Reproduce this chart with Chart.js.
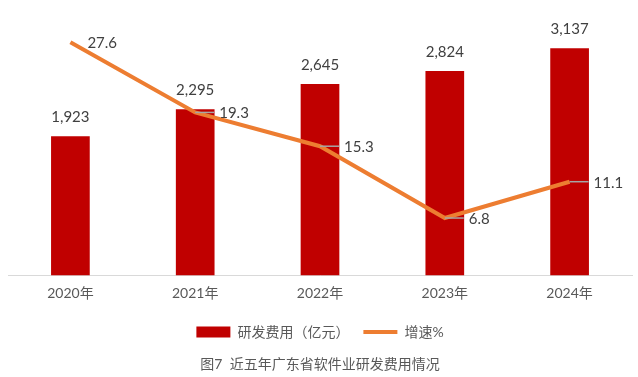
<!DOCTYPE html>
<html>
<head>
<meta charset="utf-8">
<script src="https://cdn.jsdelivr.net/npm/chart.js@4"></script>
<style>
    html, body { margin: 0; padding: 0; background: #ffffff; }
    #wrap { width: 638px; height: 377px; }
</style>
</head>
<body>
<div id="wrap"><canvas id="rdChart"></canvas></div>
<script>
// R&D spending of Guangdong software industry, 2020-2024

const years = ['2020年', '2021年', '2022年', '2023年', '2024年'];
const rdCost = [1923, 2295, 2645, 2824, 3137];   // 亿元
const growth = [27.6, 19.3, 15.3, 6.8, 11.1];     // %

const costLabel = '研发费用（亿元）';
const growthLabel = '增速%';
const caption = '图7  近五年广东省软件业研发费用情况';

const FONT = "Lato, 'Noto Sans CJK SC', sans-serif";
const RED = '#c00000';
const ORANGE = '#ed7d31';

// Draws the value labels (bars above, growth to the right with a small leader)
const valueLabels = {
    id: 'valueLabels',
    afterDatasetsDraw(chart) {
        const ctx = chart.ctx;
        ctx.save();
        ctx.font = '15px ' + FONT;
        ctx.fillStyle = '#404040';
        ctx.textBaseline = 'middle';

        ctx.textAlign = 'center';
        chart.getDatasetMeta(0).data.forEach((bar, i) => {
            ctx.fillText(rdCost[i].toLocaleString('en-US'), bar.x, bar.y - 19);
        });

        ctx.textAlign = 'left';
        chart.getDatasetMeta(1).data.forEach((pt, i) => {
            const gap = i === 0 ? 17 : 24;
            if (i > 0) {
                ctx.strokeStyle = '#a6a6a6';
                ctx.lineWidth = 1.5;
                ctx.beginPath();
                ctx.moveTo(pt.x, pt.y);
                ctx.lineTo(pt.x + gap - 5, pt.y);
                ctx.stroke();
            }
            ctx.fillText(growth[i].toFixed(1), pt.x + gap, pt.y + 1);
        });
        ctx.restore();
    }
};

const ctx = document.getElementById('rdChart').getContext('2d');

new Chart(ctx, {
    data: {
        labels: years,
        datasets: [{
            type: 'bar',
            label: costLabel,
            data: rdCost,
            backgroundColor: RED,
            yAxisID: 'y',
            categoryPercentage: 1,
            barPercentage: 0.31,
            order: 2
        }, {
            type: 'line',
            label: growthLabel,
            data: growth,
            borderColor: ORANGE,
            backgroundColor: ORANGE,
            borderWidth: 4,
            tension: 0,
            pointRadius: 0,
            yAxisID: 'y2',
            order: 1
        }]
    },
    options: {
        responsive: true,
        maintainAspectRatio: false,
        animation: false,
        layout: {
            padding: { top: 22, left: 8, right: 6, bottom: 0 }
        },
        plugins: {
            tooltip: { enabled: false },
            legend: {
                position: 'bottom',
                labels: {
                    usePointStyle: true,
                    pointStyleWidth: 34,
                    boxHeight: 11,
                    padding: 14,
                    color: '#595959',
                    font: { size: 14, family: FONT },
                    generateLabels: () => [
                        { text: costLabel, pointStyle: 'rect', fillStyle: RED, strokeStyle: RED, lineWidth: 0, fontColor: '#595959' },
                        { text: growthLabel, pointStyle: 'line', fillStyle: ORANGE, strokeStyle: ORANGE, lineWidth: 4, fontColor: '#595959' }
                    ]
                }
            },
            title: {
                display: true,
                position: 'bottom',
                text: caption,
                color: '#595959',
                font: { size: 14, weight: 'normal', family: FONT },
                padding: { top: 6.6, bottom: 4.6 }
            }
        },
        scales: {
            x: {
                grid: { display: false, drawTicks: false },
                border: { display: true, color: '#d9d9d9', width: 1 },
                ticks: {
                    color: '#595959',
                    padding: 9.35,
                    font: { size: 14, family: FONT }
                }
            },
            y: {
                display: false,
                min: 0,
                max: 3500
            },
            y2: {
                display: false,
                position: 'right',
                min: 0,
                max: 30
            }
        }
    },
    plugins: [valueLabels]
});
</script>
</body>
</html>
